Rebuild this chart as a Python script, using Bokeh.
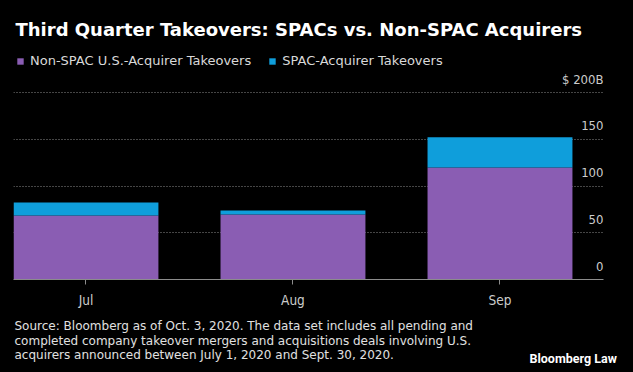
from bokeh.plotting import figure
from bokeh.layouts import column
from bokeh.models import (Range1d, FixedTicker, Grid, Label, Legend, LegendItem,
                          ColumnDataSource, GlobalInlineStyleSheet)
from bokeh.core.properties import value
from bokeh.embed import file_html
from bokeh.resources import INLINE

# ---- data ----
months = ["Jul", "Aug", "Sep"]
non_spac = [68.6, 69.6, 120.0]
spac = [13.9, 4.3, 32.4]
y_ticks = [0, 50, 100, 150, 200]
y_tick_labels = ["0", "50", "100", "150", "$ 200B"]
series_names = ["Non-SPAC U.S.-Acquirer Takeovers", "SPAC-Acquirer Takeovers"]
colors = ["#8a5db3", "#0f9edb"]

title_text = "Third Quarter Takeovers: SPACs vs. Non-SPAC Acquirers"
foot_lines = [
    "Source: Bloomberg as of Oct. 3, 2020. The data set includes all pending and",
    "completed company takeover mergers and acquisitions deals involving U.S.",
    "acquirers announced between July 1, 2020 and Sept. 30, 2020.",
]
brand = "Bloomberg Law"

COND = "DejaVu Sans Condensed"
REG = "DejaVu Sans"
BG = "#000000"

xs = list(range(len(months)))
src = ColumnDataSource(dict(x=xs, non_spac=non_spac, spac=spac))

# ---- main chart (title + legend live inside the top of the frame) ----
p = figure(width=633, height=310, output_backend="svg", toolbar_location=None,
           x_range=Range1d(-0.35, 2.5), y_range=Range1d(0, 298.9),
           y_axis_location=None, min_border_left=13, min_border_right=30,
           min_border_top=0, min_border_bottom=31)
p.frame_align = False
p.stylesheets = [GlobalInlineStyleSheet(css="html, body { background-color: #000000; }")]
p.background_fill_color = BG
p.border_fill_color = BG
p.outline_line_color = None
p.xgrid.visible = False
p.ygrid.visible = False

p.add_layout(Grid(dimension=1, ticker=FixedTicker(ticks=y_ticks[1:]),
                  grid_line_color="#8a8a8a", grid_line_dash="1 2", grid_line_width=1))

rs = p.vbar_stack(["non_spac", "spac"], x="x", width=0.7, source=src,
                  color=colors, line_color=None)

# y tick labels drawn inside the plot, right-aligned, sitting above their grid lines
tsrc = ColumnDataSource(dict(x=[2.5] * len(y_ticks), y=y_ticks, t=y_tick_labels))
p.text(x="x", y="y", text="t", source=tsrc, text_align="right",
       text_baseline="alphabetic", y_offset=-13.5, text_color="#cccccc",
       text_font=value(COND), text_font_size="13px")

ax = p.xaxis[0]
ax.ticker = FixedTicker(ticks=xs)
ax.major_label_overrides = {i: m for i, m in zip(xs, months)}
ax.major_label_text_font = COND
ax.major_label_text_font_size = "13.5px"
ax.major_label_text_color = "#cccccc"
ax.major_label_standoff = 7
ax.major_tick_out = 5
ax.major_tick_in = 0
ax.minor_tick_line_color = None
ax.axis_line_color = "#8c8c8c"
ax.major_tick_line_color = "#8c8c8c"

legend = Legend(items=[LegendItem(label=series_names[0], renderers=[rs[0]]),
                       LegendItem(label=series_names[1], renderers=[rs[1]])],
                orientation="horizontal", location=(3, 211),
                glyph_width=8, glyph_height=8, label_standoff=6, spacing=17,
                padding=0, margin=0, label_height=8,
                label_text_font=REG, label_text_font_size="13px",
                label_text_color="#d9d9d9", background_fill_alpha=0,
                border_line_color=None)
p.add_layout(legend)

p.add_layout(Label(x=2, y=249.8, x_units="screen", y_units="screen", text=title_text,
                   text_font=REG, text_font_style="bold", text_font_size="18px",
                   text_color="#ffffff", text_baseline="alphabetic"))

# ---- footer (source note + brand) ----
f = figure(width=633, height=62, output_backend="svg", toolbar_location=None,
           x_range=Range1d(0, 633), y_range=Range1d(62, 0),
           x_axis_location=None, y_axis_location=None,
           min_border_left=0, min_border_right=0,
           min_border_top=0, min_border_bottom=0)
f.frame_align = False
f.background_fill_color = BG
f.border_fill_color = BG
f.outline_line_color = None
f.grid.visible = False

for line, yy in zip(foot_lines, [15.5, 30.0, 44.5]):
    f.add_layout(Label(x=14, y=yy, text=line, text_font=REG, text_font_size="12px",
                       text_color="#e0e0e0", text_baseline="alphabetic"))

f.add_layout(Label(x=529, y=48.3, text=brand, text_font="Roboto",
                   text_font_style="bold", text_font_size="12.5px",
                   text_color="#ffffff", text_baseline="alphabetic"))

layout = column(p, f, spacing=0)
open("out.html", "w").write(file_html(layout, INLINE))
